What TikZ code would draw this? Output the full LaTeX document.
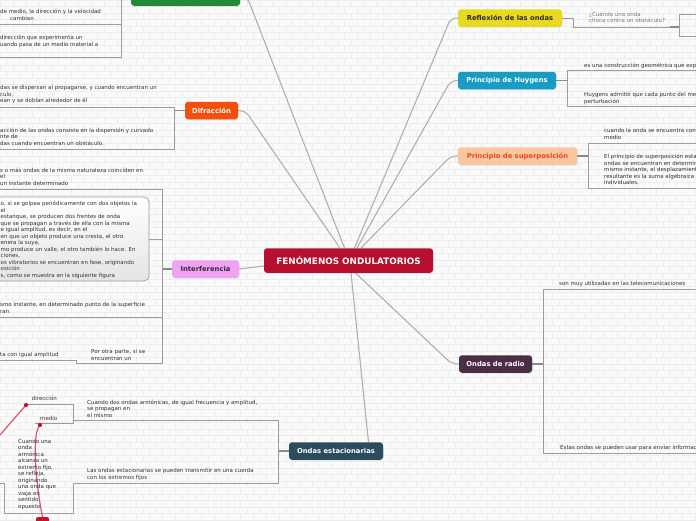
\documentclass[tikz,border=0pt]{standalone}
\usepackage{fontspec}
\setmainfont{DejaVu Sans}
\usetikzlibrary{calc,shadows}
\definecolor{bgc}{HTML}{FAFAFA}
\definecolor{brickc}{HTML}{EDEDED}
\definecolor{txtc}{HTML}{333333}
\definecolor{cQ}{HTML}{7A7A7A}
\definecolor{cBranch}{HTML}{B0B0B0}
\definecolor{cSub}{HTML}{9C9C9C}
\definecolor{cStub}{HTML}{8A8A8A}
\definecolor{cCentral}{HTML}{B70F2E}
\definecolor{cRefr}{HTML}{23883A}
\definecolor{cDifr}{HTML}{F24E0D}
\definecolor{cInterf}{HTML}{EFA3F2}
\definecolor{cInterfT}{HTML}{3A2A3A}
\definecolor{cEstac}{HTML}{2D4B5E}
\definecolor{cRadio}{HTML}{4A2D47}
\definecolor{cReflex}{HTML}{E8DB1F}
\definecolor{cDark}{HTML}{2B2B2B}
\definecolor{cHuyg}{HTML}{189CC3}
\definecolor{cSuper}{HTML}{F8C7A0}
\definecolor{cSuperT}{HTML}{EC4525}
\definecolor{cRed}{HTML}{C8102E}
\definecolor{cRel}{HTML}{D9475C}
\definecolor{cBoxB}{HTML}{E4E4E4}
\pgfdeclarelayer{bg}
\pgfdeclarelayer{lines}
\pgfsetlayers{bg,lines,main}
\tikzset{
  brick/.style={draw=brickc, line width=0.5pt},
  txt/.style={font=\fontsize{5.5}{6.5}\selectfont, text=txtc, inner sep=0pt, anchor=base west, align=left},
  topic/.style={rounded corners=3pt, font=\bfseries\fontsize{6.8}{8}\selectfont, minimum height=17.5pt, inner sep=0pt,
    drop shadow={shadow xshift=0.6pt, shadow yshift=-0.9pt, opacity=0.22}},
  branch/.style={draw=cBranch, line width=1.1pt, rounded corners=6pt},
  sub/.style={draw=cSub, line width=0.8pt},
  stub/.style={draw=cStub, line width=1.5pt},
  rel/.style={draw=cRel, line width=1.2pt, opacity=0.9},
  reldot/.style={circle, fill=cRed, inner sep=0pt, minimum size=4.2pt}
}
\begin{document}
\begin{tikzpicture}[x=1pt,y=-1pt]
\useasboundingbox (0,0) rectangle (696,520);
\begin{pgfonlayer}{bg}
  \fill[bgc] (0,0) rectangle (696,520);
  \foreach \r in {0,...,80} \draw[brick] (0,\r*6.5) -- (696,\r*6.5);
  \foreach \k in {0,...,107} {
    \pgfmathsetmacro\ph{mod(\k,2)*6.5}
    \draw[brick, dash pattern=on 6.5pt off 6.5pt, dash phase=\ph pt] (\k*6.5,0) -- (\k*6.5,520);
  }
\end{pgfonlayer}

% ---------- topic nodes ----------
\node[topic, fill=cCentral, text=white, minimum width=169pt, minimum height=24.5pt,
      font=\bfseries\fontsize{8.8}{10}\selectfont] (center) at (348.5,260.5) {FENÓMENOS ONDULATORIOS};
\node[topic, fill=cRefr, text=white, minimum width=109pt] (refr) at (185.5,-3) {Refracción de las ondas};
\node[topic, fill=cDifr, text=white, minimum width=53pt] (difr) at (211.5,110.5) {Difracción};
\node[topic, fill=cInterf, text=cInterfT, minimum width=67pt] (interf) at (205.5,269) {Interferencia};
\node[topic, fill=cEstac, text=white, minimum width=94pt] (estac) at (336,451) {Ondas estacionarias};
\node[topic, fill=cRadio, text=white, minimum width=73pt] (radio) at (495.5,364) {Ondas de radio};
\node[topic, fill=cReflex, text=cDark, minimum width=104pt] (reflex) at (510,18) {Reflexión de las ondas};
\node[topic, fill=cHuyg, text=white, minimum width=98pt] (huyg) at (507,80.5) {Principio de Huygens};
\node[topic, fill=cSuper, text=cSuperT, minimum width=119pt] (superp) at (517.5,156) {Principio de superposición};

% callout box of Interferencia
\node[draw=cSub, line width=0.7pt, rounded corners=5pt, top color=white, bottom color=cBoxB,
      minimum width=170pt, minimum height=84pt, inner sep=0pt] (ibox) at (64,239) {};

% red relation node (cut at bottom)
\node[fill=cRed, rounded corners=2pt, minimum width=13pt, minimum height=12pt, inner sep=0pt] (redn) at (42.5,523) {};

% ---------- texts (y = baseline of the last line) ----------
\node[txt] (r1) at (0,13.3) {de medio, la dirección y la velocidad};
\node[txt] (r2) at (10,20.3) {cambian};
\node[txt] (r3) at (0,46.3) {dirección que experimenta un\\uando pasa de un medio material a};

\node[txt] (d1) at (0,102.7) {das se dispersan al propagarse, y cuando encuentran un\\culo,\\ean y se doblan alrededor de él};
\node[txt] (d2) at (0,145.3) {acción de las ondas consiste en la dispersión y curvado\\nte de\\das cuando encuentran un obstáculo.};

\node[txt] (i1) at (0,185.3) {s o más ondas de la misma naturaleza coinciden en\\el\\un instante determinado};
\node[txt] (i2) at (0.5,277) {o, si se golpea periódicamente con dos objetos la\\el\\estanque, se producen dos frentes de onda\\que se propagan a través de ella con la misma\\e igual amplitud, es decir, en el\\en que un objeto produce una cresta, el otro\\enera la suya,\\mo produce un valle, el otro también lo hace. En\\ciones,\\os vibratorios se encuentran en fase, originando\\osición\\s, como se muestra en la siguiente figura};
\node[txt] (i3) at (0,313) {smo instante, en determinado punto de la superficie\\ran};
\node[txt] (i4) at (0,356) {ta con igual amplitud};
\node[txt] (i5) at (91,360.3) {Por otra parte, si se\\encuentran un};

\node[txt] (e1) at (87,417) {Cuando dos ondas armónicas, de igual frecuencia y amplitud,\\se propagan en\\el mismo};
\node[txt] (e2) at (31.7,400.3) {dirección};
\node[txt] (e3) at (40,420.3) {medio};
\node[txt] (e4) at (18,508) {Cuando una\\onda\\armónica\\alcanza un\\extremo fijo,\\se refleja,\\originando\\una onda que\\viaja en\\sentido\\opuesto};
\node[txt] (e5) at (87,479) {Las ondas estacionarias se pueden transmitir en una cuerda\\con los extremos fijos};

\node[txt, text=cQ, font=\fontsize{5.5}{6}\selectfont] (q1) at (589,22.7) {¿Cuándo una onda\\choca contra un obstáculo?};
\node[txt] (h1) at (584,67) {es una construcción geométrica que expl};
\node[txt] (h2) at (584,103) {Huygens admitió que cada punto del me\\perturbación};
\node[txt] (s1) at (604,139.3) {cuando la onda se encuentra con\\medio};
\node[txt] (s2) at (604,184.7) {El principio de superposición esta\\ondas se encuentran en determin\\mismo instante, el desplazamient\\resultante es la suma algebraica\\individuales.};
\node[txt] (o1) at (559,285) {son muy utilizadas en las telecomunicaciones};
\node[txt] (o2) at (560,449) {Estas ondas se pueden usar para enviar informac};

% ---------- connectors ----------
\begin{pgfonlayer}{lines}
  % main branches
  \draw[branch] (refr.east) -- ++(7,0) -- ($(center.north)+(-4,0)$);
  \draw[branch] (difr.east) -- ++(7,0) -- ($(center.north)+(-8.5,0)$);
  \draw[branch] (reflex.west) -- ++(-7,0) -- ($(center.north)+(6,0)$);
  \draw[branch] (huyg.west) -- ++(-7,0) -- ($(center.north)+(8.5,0)$);
  \draw[branch] (superp.west) -- ++(-7,0) -- ($(center.north)+(12.5,0)$);
  \draw[branch] (radio.west) -- ++(-7,0) -- ($(center.south)+(7,0)$);
  \draw[branch] ($(estac.north)+(32.5,0)$) -- ($(center.south)+(2.5,0)$);
  \draw[branch] (interf.east) -- ($(center.west)+(0,5.5)$);

  % Refraccion
  \draw[stub] (refr.west) -- (121,-3);
  \draw[sub] (0,24) -- (121,24);
  \draw[sub] (121,-25) -- (121,57) -- (0,57);
  % Difraccion
  \draw[stub] (difr.west) -- (174,110.5);
  \draw[sub] (0,107) -- (174,107) -- (174,149) -- (0,149);
  % Interferencia
  \draw[stub] (interf.west) -- (162,269);
  \draw[sub] (0,189) -- (162,189) -- (162,363) -- (76,363) -- (76,360) -- (0,360);
  \draw[sub] (ibox.east) -- (162,239);
  \draw[sub] (0,317) -- (162,317);
  % Ondas estacionarias
  \draw[stub] (estac.west) -- (278,451);
  \draw[sub] (73,420) -- (278,420) -- (278,483) -- (73,483);
  \draw[sub] (27,404) -- (73,404) -- (73,423) -- (35,423);
  \draw[sub] (73,483) -- (73,513) -- (4,513) -- (4,483) -- (0,483);
  % Reflexion
  \draw[sub] (reflex.east) -- (573,18) -- (573,27) -- (679,27);
  \draw[stub] (670,27) -- (679,27);
  \draw[sub] (696,14) -- (679,14) -- (679,36) -- (696,36);
  % Huygens
  \draw[stub] (huyg.east) -- (567,80.5);
  \draw[sub] (696,70) -- (567,70) -- (567,106) -- (696,106);
  % Superposicion
  \draw[stub] (superp.east) -- (588,156);
  \draw[sub] (696,143) -- (588,143) -- (588,188) -- (696,188);
  % Ondas de radio
  \draw[stub] (radio.east) -- (543,364);
  \draw[sub] (696,289) -- (543,289) -- (543,453) -- (696,453);

  % red relations
  \coordinate (rl1) at (26,405);
  \coordinate (rl1e) at (0,435);
  \coordinate (rl2) at (40,425);
  \draw[rel] (rl1) -- (rl1e);
  \draw[rel] (rl2) .. controls (32,432) and (35,480) .. (redn.north);
\end{pgfonlayer}
\node[reldot] (dot1) at (rl1) {};
\node[reldot] (dot2) at (rl2) {};
\end{tikzpicture}
\end{document}
